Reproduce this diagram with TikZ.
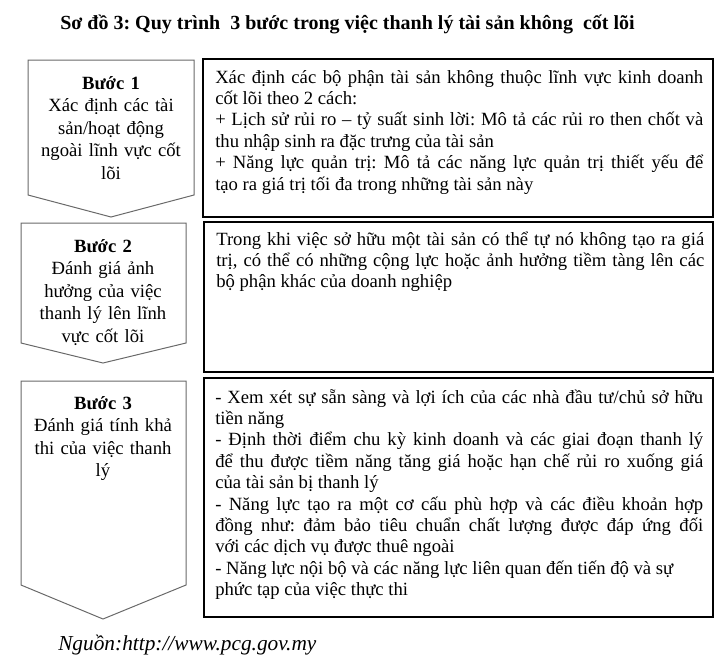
\documentclass[tikz,border=0pt]{standalone}
\usepackage{fontspec}
\setmainfont{Liberation Serif}
\usepackage{tikz}
\setlength{\parindent}{0pt}
\frenchspacing
\definecolor{stepgray}{RGB}{105,105,105}
\tikzstyle{stepshape} = [draw=stepgray, line width=0.75pt]
\tikzstyle{steptext} = [anchor=base, text width=125pt, align=center, inner sep=0pt, font=\fontsize{14pt}{16.9pt}\selectfont]
\tikzstyle{descbox} = [draw, line width=0.8pt]
\tikzstyle{desctext} = [anchor=base west, text width=366pt, align=justify, inner sep=0pt, font=\fontsize{14pt}{16.05pt}\selectfont]

\begin{document}
\begin{tikzpicture}[x=0.75pt, y=-0.75pt]
  \useasboundingbox (0,0) rectangle (721,658);

  \node[anchor=base west, inner sep=0pt, font=\fontsize{15pt}{17pt}\selectfont\bfseries] (title) at (60,29)
    {Sơ đồ 3: Quy trình~~3 bước trong việc thanh lý tài sản không~~cốt lõi};

  % steps
  \draw[stepshape] (28,60) -- (194,60) -- (194,195) -- (111,217) -- (28,195) -- cycle;
  \draw[stepshape] (21,223) -- (186,223) -- (186,343) -- (103,363) -- (21,343) -- cycle;
  \draw[stepshape] (21,381) -- (186,381) -- (186,585) -- (103,619) -- (21,585) -- cycle;

  \node[steptext] (s1) at (111,89) {\textbf{Bước 1}\\Xác định các tài\\sản/hoạt động\\ngoài lĩnh vực cốt\\lõi};
  \node[steptext] (s2) at (103,252) {\textbf{Bước 2}\\Đánh giá ảnh\\hưởng của việc\\thanh lý lên lĩnh\\vực cốt lõi};
  \node[steptext] (s3) at (103,409) {\textbf{Bước 3}\\Đánh giá tính khả\\thi của việc thanh\\lý};

  % descriptions
  \draw[descbox] (203,59) rectangle (713,217);
  \draw[descbox] (204,222) rectangle (713,372);
  \draw[descbox] (204,378) rectangle (713,617);

  \node[desctext] (d1) at (215,83) {Xác định các bộ phận tài sản không thuộc lĩnh vực kinh doanh\linebreak cốt lõi theo 2 cách:\par
    + Lịch sử rủi ro – tỷ suất sinh lời: Mô tả các rủi ro then chốt và\linebreak thu nhập sinh ra đặc trưng của tài sản\par
    + Năng lực quản trị: Mô tả các năng lực quản trị thiết yếu để\linebreak tạo ra giá trị tối đa trong những tài sản này};
  \node[desctext] (d2) at (216,245) {Trong khi việc sở hữu một tài sản có thể tự nó không tạo ra giá\linebreak trị, có thể có những cộng lực hoặc ảnh hưởng tiềm tàng lên các\linebreak bộ phận khác của doanh nghiệp};
  \node[desctext] (d3) at (215,403) {- Xem xét sự sẵn sàng và lợi ích của các nhà đầu tư/chủ sở hữu\linebreak tiền năng\par
    - Định thời điểm chu kỳ kinh doanh và các giai đoạn thanh lý\linebreak để thu được tiềm năng tăng giá hoặc hạn chế rủi ro xuống giá\linebreak của tài sản bị thanh lý\par
    - Năng lực tạo ra một cơ cấu phù hợp và các điều khoản hợp\linebreak đồng như: đảm bảo tiêu chuẩn chất lượng được đáp ứng đối\linebreak với các dịch vụ được thuê ngoài\par
    - Năng lực nội bộ và các năng lực liên quan đến tiến độ và sự\par
    phức tạp của việc thực thi};

  \node[anchor=base west, inner sep=0pt, font=\fontsize{16pt}{18pt}\selectfont\itshape] (source) at (58,650) {Nguồn:http://www.pcg.gov.my};
\end{tikzpicture}
\end{document}
